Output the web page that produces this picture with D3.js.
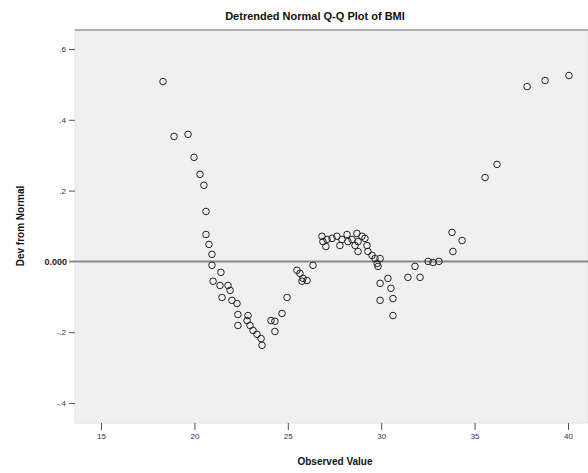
<!DOCTYPE html>
<html>
<head>
<meta charset="utf-8">
<script src="https://cdn.jsdelivr.net/npm/d3@7"></script>
<style>
  html, body { margin: 0; padding: 0; background: #fff; }
  svg { display: block; font-family: "Liberation Sans", Arial, sans-serif; }
</style>
</head>
<body>
<svg id="chart" width="588" height="473"></svg>
<script>
// Observed BMI values and their deviation from the normal expectation
const observed = [
  18.32, 18.91, 19.66, 19.98, 20.30, 20.51, 20.62, 20.62, 20.78, 20.94,
  20.94, 21.42, 21.00, 21.37, 21.80, 21.91, 21.48, 22.01, 22.28, 22.33,
  22.87, 22.33, 22.82, 22.98, 23.14, 23.35, 23.57, 23.62, 24.10, 24.31,
  24.31, 24.69, 24.96, 25.49, 25.65, 25.81, 26.03, 25.76, 26.35, 26.83,
  26.88, 27.10, 27.37, 27.63, 27.90, 28.17, 28.22, 28.44, 28.70, 28.76,
  28.97, 29.13, 29.24, 28.76, 29.29, 29.51, 29.67, 29.94, 29.78, 29.83,
  29.94, 30.36, 30.52, 30.63, 29.94, 30.63, 31.81, 31.43, 32.08, 32.51,
  32.77, 33.09, 33.79, 34.33, 33.84, 35.56, 36.20, 37.81, 38.77, 40.05,
  27.04, 27.79, 28.60
];
const deviation = [
  0.508, 0.353, 0.359, 0.294, 0.246, 0.215, 0.141, 0.076, 0.048, 0.020,
  -0.011, -0.031, -0.056, -0.068, -0.068, -0.082, -0.102, -0.110, -0.119, -0.150,
  -0.153, -0.181, -0.167, -0.181, -0.195, -0.206, -0.218, -0.237, -0.167, -0.169,
  -0.198, -0.147, -0.102, -0.025, -0.034, -0.048, -0.054, -0.056, -0.011, 0.071,
  0.056, 0.062, 0.065, 0.071, 0.062, 0.076, 0.056, 0.062, 0.079, 0.056,
  0.071, 0.065, 0.045, 0.028, 0.028, 0.017, 0.008, 0.008, -0.006, -0.014,
  -0.062, -0.048, -0.076, -0.105, -0.110, -0.153, -0.014, -0.045, -0.045, 0.000,
  -0.003, 0.000, 0.082, 0.059, 0.028, 0.237, 0.274, 0.494, 0.511, 0.525,
  0.042, 0.045, 0.045
];
const xTicks = [15, 20, 25, 30, 35, 40];
const yTicks = [0.6, 0.4, 0.2, -0.2, -0.4];
const yTickLabels = [".6", ".4", ".2", "-.2", "-.4"];
const zeroLabel = "0.000";
const titleText = "Detrended Normal Q-Q Plot of BMI";
const xTitle = "Observed Value";
const yTitle = "Dev from Normal";

const svg = d3.select("#chart");
const plot = { left: 75, top: 30, right: 588, bottom: 423 };

const x = d3.scaleLinear().domain([15, 40]).range([101, 568]);
const y = d3.scaleLinear().domain([-0.4, 0.6]).range([403, 49]);

// plot background
svg.append("rect")
  .attr("x", plot.left).attr("y", plot.top)
  .attr("width", plot.right - plot.left).attr("height", plot.bottom - plot.top)
  .attr("fill", "#f0f0f0")
  .attr("stroke", "#e2e2e2").attr("stroke-width", 1);

// top frame line
svg.append("line")
  .attr("x1", plot.left).attr("x2", plot.right)
  .attr("y1", plot.top).attr("y2", plot.top)
  .attr("stroke", "#b0b0b0").attr("stroke-width", 2);

// y axis ticks
const yAxis = d3.axisLeft(y).tickValues(yTicks)
  .tickFormat((d, i) => yTickLabels[i]).tickSize(6).tickPadding(3);
const gy = svg.append("g").attr("transform", `translate(${plot.left},0)`).call(yAxis);
gy.select(".domain").remove();
gy.selectAll(".tick line").attr("stroke", "#555");
gy.selectAll(".tick text").attr("font-size", 8).attr("fill", "#333")
  .attr("font-family", "Liberation Sans, Arial, sans-serif");

// x axis ticks
const xAxis = d3.axisBottom(x).tickValues(xTicks).tickSize(7).tickPadding(3);
const gx = svg.append("g").attr("transform", `translate(0,${plot.bottom})`).call(xAxis);
gx.select(".domain").remove();
gx.selectAll(".tick line").attr("stroke", "#555");
gx.selectAll(".tick text").attr("font-size", 8).attr("fill", "#333")
  .attr("font-family", "Liberation Sans, Arial, sans-serif");

// reference line at zero deviation
svg.append("line")
  .attr("x1", plot.left - 6).attr("x2", plot.right)
  .attr("y1", y(0)).attr("y2", y(0))
  .attr("stroke", "#8a8a8a").attr("stroke-width", 2);
svg.append("text")
  .attr("x", plot.left - 8).attr("y", y(0)).attr("dy", "0.35em")
  .attr("text-anchor", "end").attr("font-size", 9).attr("font-weight", "bold")
  .attr("fill", "#222").text(zeroLabel);

// points
const pts = observed.map((v, i) => ({ v, d: deviation[i] }));
svg.append("g").selectAll("circle").data(pts).join("circle")
  .attr("cx", p => x(p.v)).attr("cy", p => y(p.d)).attr("r", 3.3)
  .attr("fill", "none").attr("stroke", "#222").attr("stroke-width", 1);

// titles
svg.append("text")
  .attr("x", 315).attr("y", 20).attr("text-anchor", "middle")
  .attr("font-size", 11).attr("font-weight", "bold").attr("fill", "#111")
  .text(titleText);
svg.append("text")
  .attr("x", 335).attr("y", 465).attr("text-anchor", "middle")
  .attr("font-size", 10).attr("font-weight", "bold").attr("fill", "#111")
  .text(xTitle);
svg.append("text")
  .attr("transform", "translate(24,226) rotate(-90)").attr("text-anchor", "middle")
  .attr("font-size", 10).attr("font-weight", "bold").attr("fill", "#111")
  .text(yTitle);
</script>
</body>
</html>
